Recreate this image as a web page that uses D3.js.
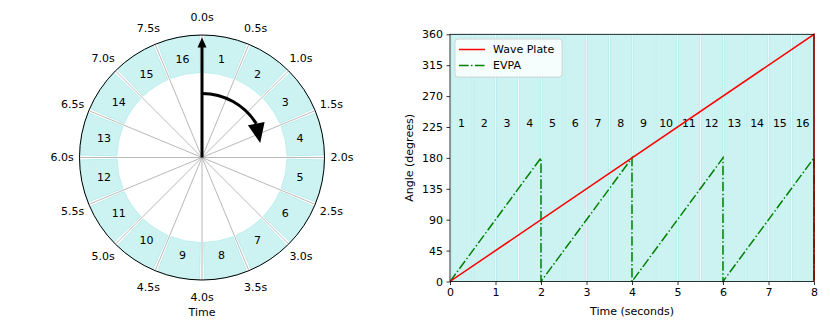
<!DOCTYPE html>
<html>
<head>
<meta charset="utf-8">
<script src="https://cdn.jsdelivr.net/npm/d3@7"></script>
<style>
  body { margin: 0; background: #fff; }
  text { font-family: "DejaVu Sans", sans-serif; font-size: 11px; fill: #000; }
</style>
</head>
<body>
<div id="chart"></div>
<script>
// data
var sectorLabels = ["1","2","3","4","5","6","7","8","9","10","11","12","13","14","15","16"];
var timeLabels = ["0.0s","0.5s","1.0s","1.5s","2.0s","2.5s","3.0s","3.5s","4.0s","4.5s","5.0s","5.5s","6.0s","6.5s","7.0s","7.5s"];
var sectorStart = [0,0.5,1,1.5,2,2.5,3,3.5,4,4.5,5,5.5,6,6.5,7,7.5];
var waveT = [0, 8, 8];
var waveAngle = [0, 360, 0];
var evpaT = [0, 2, 2, 4, 4, 6, 6, 8, 8];
var evpaAngle = [0, 180, 0, 180, 0, 180, 0, 180, 0];
var xTicks = [0,1,2,3,4,5,6,7,8];
var yTicks = [0,45,90,135,180,225,270,315,360];
var labelAngle = 225;

var W = 830, H = 332;
var fillC = "#ccf2f2", edgeC = "#b0ebeb";

var svg = d3.select("#chart").append("svg")
    .attr("width", W).attr("height", H);

// ---------- left: polar clock ----------
var cx = 202, cy = 157.5, rOut = 122.5, rIn = 85;
var ang = d3.scaleLinear().domain([0, 8]).range([0, 2 * Math.PI]);
var polar = svg.append("g").attr("transform", "translate(" + cx + "," + cy + ")");

var pad = ang(0.5) * 0.05;
var arc = d3.arc().innerRadius(rIn).outerRadius(rOut);
polar.selectAll("path.sector")
    .data(sectorStart)
    .enter().append("path")
    .attr("class", "sector")
    .attr("d", function(d) { return arc({startAngle: ang(d) + pad, endAngle: ang(d + 0.5) - pad}); })
    .attr("fill", fillC)
    .attr("stroke", edgeC)
    .attr("stroke-width", 0.8);

// radial grid
polar.selectAll("line.grid")
    .data(sectorStart)
    .enter().append("line")
    .attr("class", "grid")
    .attr("x1", 0).attr("y1", 0)
    .attr("x2", function(d) { return rOut * Math.sin(ang(d)); })
    .attr("y2", function(d) { return -rOut * Math.cos(ang(d)); })
    .attr("stroke", "#b0b0b0")
    .attr("stroke-width", 0.9);

polar.append("circle")
    .attr("r", rOut).attr("fill", "none")
    .attr("stroke", "#000").attr("stroke-width", 1);

polar.selectAll("text.num")
    .data(sectorStart)
    .enter().append("text")
    .attr("class", "num")
    .attr("x", function(d) { return 100 * Math.sin(ang(d + 0.25)); })
    .attr("y", function(d) { return -100 * Math.cos(ang(d + 0.25)); })
    .attr("text-anchor", "middle")
    .attr("dy", "0.35em")
    .text(function(d, i) { return sectorLabels[i]; });

polar.selectAll("text.tlab")
    .data(sectorStart)
    .enter().append("text")
    .attr("class", "tlab")
    .attr("x", function(d) { return 140 * Math.sin(ang(d)); })
    .attr("y", function(d) { return -140 * Math.cos(ang(d)); })
    .attr("text-anchor", "middle")
    .attr("dy", "0.35em")
    .text(function(d, i) { return timeLabels[i]; });

polar.append("text")
    .attr("x", 0).attr("y", 158)
    .attr("text-anchor", "middle")
    .text("Time");

// straight arrow pointing to 0.0s
polar.append("line")
    .attr("x1", 0).attr("y1", 0).attr("x2", 0).attr("y2", -111)
    .attr("stroke", "#000").attr("stroke-width", 3);
polar.append("path")
    .attr("d", "M-4.5,-110 L4.5,-110 L0,-120 Z")
    .attr("fill", "#000");

// curved arrow showing rotation
var rA = 64, aEnd = 58 * Math.PI / 180;
var p = d3.path();
p.arc(0, 0, rA, -Math.PI / 2, -Math.PI / 2 + aEnd, false);
polar.append("path")
    .attr("d", p.toString())
    .attr("fill", "none")
    .attr("stroke", "#000").attr("stroke-width", 3);
var bx = rA * Math.sin(aEnd), by = -rA * Math.cos(aEnd);
var tipA = 76 * Math.PI / 180;
var tx = 60 * Math.sin(tipA), ty = -60 * Math.cos(tipA);
var dx = tx - bx, dy = ty - by, dl = Math.sqrt(dx * dx + dy * dy);
var nx = -dy / dl * 8.5, ny = dx / dl * 8.5;
polar.append("path")
    .attr("d", "M" + (bx + nx) + "," + (by + ny) + " L" + (bx - nx) + "," + (by - ny) + " L" + tx + "," + ty + " Z")
    .attr("fill", "#000");

// ---------- right: angle vs time ----------
var x = d3.scaleLinear().domain([0, 8]).range([450, 814]);
var y = d3.scaleLinear().domain([0, 360]).range([281.5, 34.3]);
var right = svg.append("g");

right.selectAll("rect.band")
    .data(sectorStart)
    .enter().append("rect")
    .attr("class", "band")
    .attr("x", function(d) { return x(d) + 1; })
    .attr("y", y(360))
    .attr("width", function(d) { return x(d + 0.5) - x(d) - 1.6; })
    .attr("height", y(0) - y(360))
    .attr("fill", fillC)
    .attr("stroke", edgeC)
    .attr("stroke-width", 0.8);

right.selectAll("text.bnum")
    .data(sectorStart)
    .enter().append("text")
    .attr("class", "bnum")
    .attr("x", function(d) { return x(d + 0.25); })
    .attr("y", y(labelAngle))
    .attr("text-anchor", "middle")
    .text(function(d, i) { return sectorLabels[i]; });

var clip = svg.append("clipPath").attr("id", "plotclip").append("rect")
    .attr("x", x(0)).attr("y", y(360) - 1)
    .attr("width", x(8) - x(0) + 1).attr("height", y(0) - y(360) + 2);

var line = d3.line()
    .x(function(d) { return x(d[0]); })
    .y(function(d) { return y(d[1]); });

right.append("path")
    .datum(evpaT.map(function(t, i) { return [t, evpaAngle[i]]; }))
    .attr("d", line)
    .attr("clip-path", "url(#plotclip)")
    .attr("fill", "none")
    .attr("stroke", "#008000")
    .attr("stroke-width", 1.5)
    .attr("stroke-dasharray", "9.6,2.4,1.5,2.4");

right.append("path")
    .datum(waveT.map(function(t, i) { return [t, waveAngle[i]]; }))
    .attr("d", line)
    .attr("clip-path", "url(#plotclip)")
    .attr("fill", "none")
    .attr("stroke", "#ff0000")
    .attr("stroke-width", 1.5);

// axes
right.append("g")
    .attr("transform", "translate(0," + y(0) + ")")
    .call(d3.axisBottom(x).tickValues(xTicks).tickSize(3.5).tickPadding(3.5).tickFormat(d3.format("d")))
    .call(function(g) { g.select(".domain").remove(); });
right.append("g")
    .attr("transform", "translate(" + x(0) + ",0)")
    .call(d3.axisLeft(y).tickValues(yTicks).tickSize(3.5).tickPadding(3.5).tickFormat(d3.format("d")))
    .call(function(g) { g.select(".domain").remove(); });
right.selectAll(".tick text").style("font-size", "11px").style("font-family", "DejaVu Sans");
right.selectAll(".tick line").attr("stroke", "#000").attr("stroke-width", 0.8);

right.append("rect")
    .attr("x", x(0)).attr("y", y(360))
    .attr("width", x(8) - x(0)).attr("height", y(0) - y(360))
    .attr("fill", "none").attr("stroke", "#000").attr("stroke-width", 0.8);

right.append("text")
    .attr("x", (x(0) + x(8)) / 2).attr("y", 315)
    .attr("text-anchor", "middle")
    .text("Time (seconds)");
right.append("text")
    .attr("transform", "translate(413," + ((y(0) + y(360)) / 2) + ") rotate(-90)")
    .attr("text-anchor", "middle")
    .text("Angle (degrees)");

// legend
var leg = right.append("g").attr("transform", "translate(455,39)");
leg.append("rect")
    .attr("width", 107).attr("height", 38).attr("rx", 3)
    .attr("fill", "#fff").attr("fill-opacity", 0.8)
    .attr("stroke", "#cccccc").attr("stroke-width", 0.8);
leg.append("line").attr("x1", 4).attr("x2", 30).attr("y1", 10.5).attr("y2", 10.5)
    .attr("stroke", "#ff0000").attr("stroke-width", 1.5);
leg.append("line").attr("x1", 4).attr("x2", 30).attr("y1", 26.5).attr("y2", 26.5)
    .attr("stroke", "#008000").attr("stroke-width", 1.5)
    .attr("stroke-dasharray", "9.6,2.4,1.5,2.4");
leg.append("text").attr("x", 38).attr("y", 10.5).attr("dy", "0.35em").text("Wave Plate");
leg.append("text").attr("x", 38).attr("y", 26.5).attr("dy", "0.35em").text("EVPA");
</script>
</body>
</html>
